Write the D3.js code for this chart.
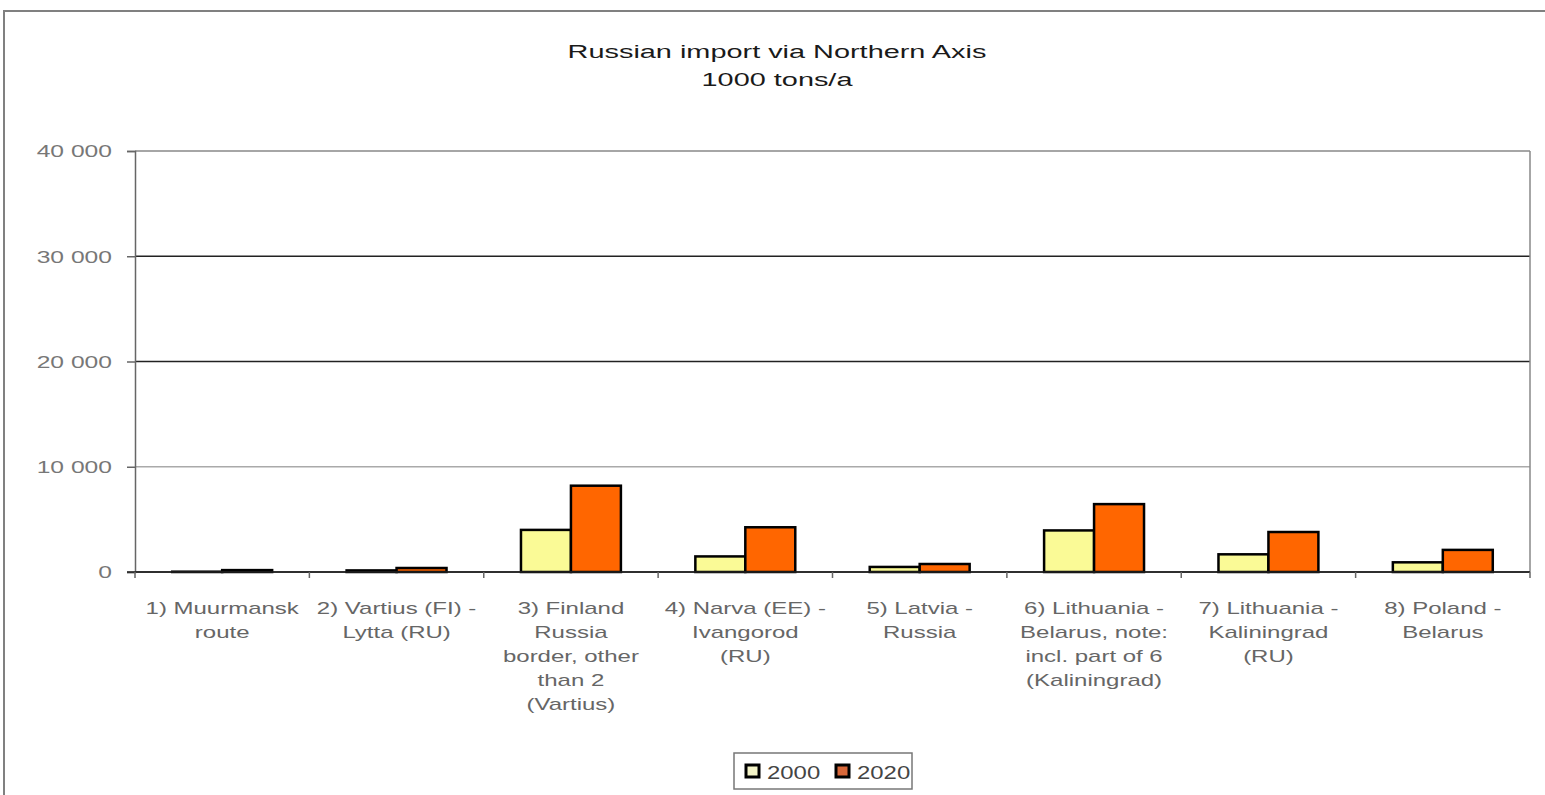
<!DOCTYPE html>
<html>
<head>
<meta charset="utf-8">
<script src="https://cdn.jsdelivr.net/npm/d3@7"></script>
<style>
  body { margin: 0; background: #fff; }
  text { font-family: "Liberation Sans", Arial, sans-serif; }
</style>
</head>
<body>
<div id="container"></div>
<script>
const categories = ["c1", "c2", "c3", "c4", "c5", "c6", "c7", "c8"];
const categoryLabels = [
  ["1) Muurmansk", "route"],
  ["2) Vartius (FI) -", "Lytta (RU)"],
  ["3) Finland", "Russia", "border, other", "than 2", "(Vartius)"],
  ["4) Narva (EE) -", "Ivangorod", "(RU)"],
  ["5) Latvia -", "Russia"],
  ["6) Lithuania -", "Belarus, note:", "incl. part of 6", "(Kaliningrad)"],
  ["7) Lithuania -", "Kaliningrad", "(RU)"],
  ["8) Poland -", "Belarus"]
];
const series = ["2000", "2020"];
const values2000 = [30, 150, 4000, 1480, 480, 3950, 1680, 920];
const values2020 = [180, 380, 8200, 4250, 760, 6450, 3800, 2100];
const yTicks = [0, 10000, 20000, 30000, 40000];
const colors = ["#fafa96", "#ff6600"];

const W = 1545, H = 795;
const mLeft = 135, mRight = 1530, mTop = 151, mBottom = 572;
// the source picture is stretched sideways, so text is too
const stretch = 1.45;

const svg = d3.select("#container").append("svg")
  .attr("width", W).attr("height", H);

// outer frame (partly cut off)
svg.append("path")
  .attr("d", "M4," + H + " V11 H" + W)
  .attr("fill", "none").attr("stroke", "#808080").attr("stroke-width", 2);

// title
const title = svg.append("g").attr("transform", "translate(777,0) scale(1.52,1)");
title.append("text").attr("x", 0).attr("y", 58).attr("text-anchor", "middle")
  .attr("font-size", 19).attr("fill", "#1a1a1a").text("Russian import via Northern Axis");
title.append("text").attr("x", 0).attr("y", 86).attr("text-anchor", "middle")
  .attr("font-size", 19).attr("fill", "#1a1a1a").text("1000 tons/a");

const x0 = d3.scaleBand().domain(categories).range([mLeft, mRight]).padding(0);
const x1 = d3.scaleBand().domain(series).range([0, x0.bandwidth()])
  .paddingInner(0).paddingOuter(0.745);
const y = d3.scaleLinear().domain([0, 40000]).range([mBottom, mTop]);

// gridlines
const gridColor = {0: "#222", 10000: "#aaa", 20000: "#222", 30000: "#222", 40000: "#888"};
svg.append("g").selectAll("line").data(yTicks).join("line")
  .attr("x1", mLeft).attr("x2", mRight)
  .attr("y1", d => y(d)).attr("y2", d => y(d))
  .attr("stroke", d => gridColor[d]).attr("stroke-width", 1.5);

// right border of plot area
svg.append("line").attr("x1", mRight).attr("x2", mRight).attr("y1", mTop).attr("y2", mBottom)
  .attr("stroke", "#888").attr("stroke-width", 1.5);

// y axis
const yAxis = d3.axisLeft(y).tickValues(yTicks).tickSize(8)
  .tickFormat(d => d3.format(",")(d).replace(",", " "));
const gy = svg.append("g").attr("transform", "translate(" + mLeft + ",0)").call(yAxis);
gy.select(".domain").attr("stroke", "#666").attr("stroke-width", 1.5);
gy.selectAll(".tick line").attr("stroke", "#666").attr("stroke-width", 1.5);
gy.selectAll(".tick text").attr("font-size", 17).attr("fill", "#777")
  .attr("font-family", "'Liberation Sans', Arial, sans-serif")
  .attr("x", 0).attr("dy", "0.35em")
  .attr("transform", "translate(-23,0) scale(" + stretch + ",1)");

// bars
const groups = svg.append("g").selectAll("g").data(categories).join("g")
  .attr("transform", d => "translate(" + x0(d) + ",0)");
groups.selectAll("rect")
  .data((d, i) => [values2000[i], values2020[i]].map((v, j) => ({s: series[j], v: v, j: j})))
  .join("rect")
  .attr("x", d => x1(d.s))
  .attr("width", x1.bandwidth())
  .attr("y", d => y(d.v))
  .attr("height", d => y(0) - y(d.v))
  .attr("fill", d => colors[d.j])
  .attr("stroke", "#000").attr("stroke-width", 2.5);

// x axis baseline + ticks at category boundaries
svg.append("line").attr("x1", mLeft - 8).attr("x2", mRight).attr("y1", mBottom).attr("y2", mBottom)
  .attr("stroke", "#222").attr("stroke-width", 1.5);
const boundaries = categories.map(c => x0(c)).concat([mRight]);
svg.append("g").selectAll("line").data(boundaries).join("line")
  .attr("x1", d => d).attr("x2", d => d).attr("y1", mBottom).attr("y2", mBottom + 6)
  .attr("stroke", "#666").attr("stroke-width", 1.5);

// category labels
const lab = svg.append("g").selectAll("text").data(categories).join("text")
  .attr("text-anchor", "middle").attr("font-size", 16).attr("fill", "#666")
  .attr("transform", d => "translate(" + (x0(d) + x0.bandwidth() / 2) + ",614) scale(1.5,1)");
lab.selectAll("tspan").data((d, i) => categoryLabels[i]).join("tspan")
  .attr("x", 0).attr("dy", (d, i) => i === 0 ? 0 : 24)
  .text(d => d);

// legend
const leg = svg.append("g").attr("transform", "translate(734,753)");
leg.append("rect").attr("width", 178).attr("height", 36)
  .attr("fill", "#fff").attr("stroke", "#777").attr("stroke-width", 1.5);
const items = leg.selectAll("g").data(series).join("g")
  .attr("transform", (d, i) => "translate(" + (12 + i * 90) + ",0)");
items.append("rect").attr("x", 0).attr("y", 12).attr("width", 13).attr("height", 12)
  .attr("fill", (d, i) => i === 0 ? "#f4f4c8" : "#d8683a")
  .attr("stroke", "#000").attr("stroke-width", 3);
items.append("text").attr("transform", "translate(21,26) scale(1.33,1)")
  .attr("font-size", 18).attr("fill", "#444").text(d => d);
</script>
</body>
</html>
